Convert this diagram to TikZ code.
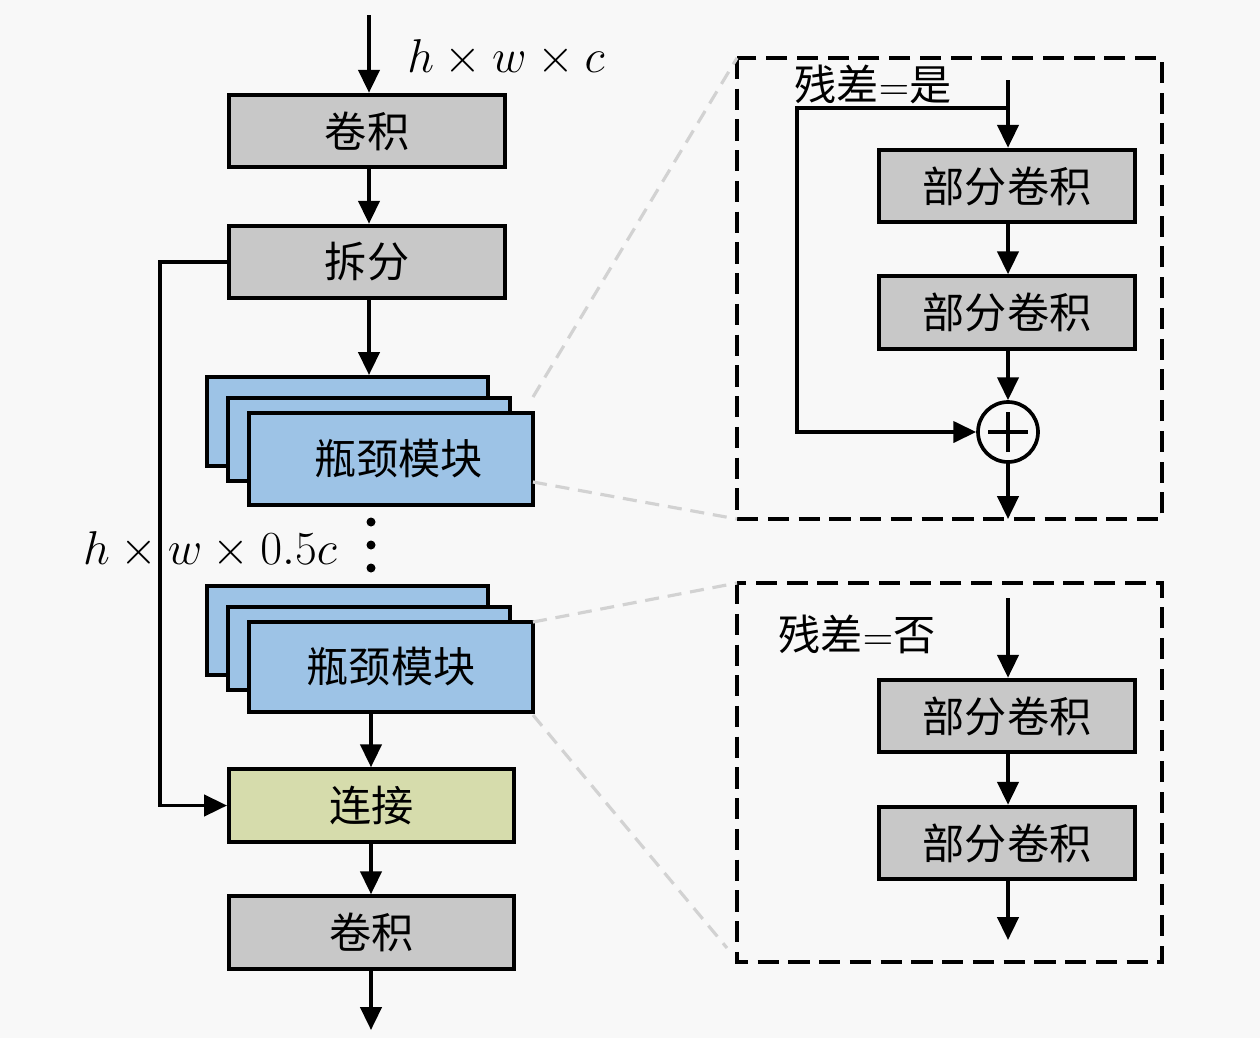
\RequirePackage{fix-cm}
\documentclass[tikz,border=0pt]{standalone}
\usepackage{fontspec}
\newfontfamily\cjk{Noto Sans CJK SC}
\usetikzlibrary{arrows.meta}
\definecolor{bgc}{RGB}{248,248,248}
\definecolor{boxgray}{RGB}{200,200,200}
\definecolor{bnblue}{RGB}{157,195,230}
\definecolor{catolive}{RGB}{214,220,172}
\definecolor{glinec}{RGB}{210,210,210}
\tikzset{
  arr/.style={line width=2.1pt, -{Triangle[length=13pt,width=12pt]}},
  gbox/.style={draw, line width=2.3pt, fill=boxgray, minimum height=1.45cm,
    font=\cjk\fontsize{24}{28}\selectfont, inner sep=0pt},
  bnbox/.style={draw, line width=2.3pt, fill=bnblue, inner sep=0pt,
    font=\cjk\fontsize{24}{28}\selectfont},
  mlab/.style={font=\fontsize{27}{31}\selectfont, inner sep=0pt},
  clab/.style={font=\cjk\fontsize{24}{28}\selectfont, inner sep=0pt},
  dbox/.style={line width=2.1pt, dash pattern=on 12pt off 5.5pt},
  gline/.style={line width=1.8pt, glinec, dash pattern=on 8pt off 5pt},
}
\begin{document}
\begin{tikzpicture}[x=0.02cm, y=-0.02cm]
\fill[bgc] (0,0) rectangle (1260,1038);
\useasboundingbox (0,0) rectangle (1260,1038);

% left column
\node[gbox, minimum width=5.52cm] (conv1) at (367,131) {卷积};
\node[gbox, minimum width=5.52cm] (split) at (367,262) {拆分};

\node[bnbox, minimum width=5.62cm, minimum height=1.78cm] (s1a) at (347.5,421.5) {};
\node[bnbox, minimum width=5.64cm, minimum height=1.66cm] (s1b) at (369,439.5) {};
\node[bnbox, minimum width=5.68cm, minimum height=1.84cm] (s1c) at (391,459) {\hspace*{0.3cm}瓶颈模块};

\node[bnbox, minimum width=5.62cm, minimum height=1.78cm] (s2a) at (347.5,630.5) {};
\node[bnbox, minimum width=5.64cm, minimum height=1.66cm] (s2b) at (369,648.5) {};
\node[bnbox, minimum width=5.68cm, minimum height=1.80cm] (s2c) at (391,667) {瓶颈模块};

\node[gbox, fill=catolive, minimum width=5.7cm] (concat) at (371.5,805.5) {连接};
\node[gbox, minimum width=5.7cm] (conv2) at (371.5,932.5) {卷积};

\coordinate (in) at (369,15);
\coordinate (xl) at (369,0);
\coordinate (xr) at (371,0);
\coordinate (out) at (371,1030);
\coordinate (byp) at (160,0);

\draw[arr] (in) -- (in |- conv1.north);
\draw[arr] (conv1.south -| xl) -- (split.north -| xl);
\draw[arr] (split.south -| xl) -- (s1a.north -| xl);
\draw[arr] (s2c.south -| xr) -- (concat.north -| xr);
\draw[arr] (concat.south -| xr) -- (conv2.north -| xr);
\draw[arr] (conv2.south -| xr) -- (out);
\draw[arr] (split.west) -- (split.west -| byp) -- (concat.west -| byp) -- (concat.west);

\fill (371,522) circle[radius=0.09cm];
\fill (371,545) circle[radius=0.09cm];
\fill (371,568) circle[radius=0.09cm];

\node[mlab] (lab1) at (506,58) {$h\times w\times c$};
\node[mlab] (lab2) at (210,550) {$h\times w\times 0.5c$};

% right top
\coordinate (r1a) at (737,58);
\coordinate (r1b) at (1162,519);
\draw[dbox] (r1a) rectangle (r1b);
\node[clab] (res1) at (873,84) {残差$=$是};
\node[gbox, minimum width=5.12cm] (pc1) at (1007,186) {部分卷积};
\node[gbox, minimum width=5.12cm] (pc2) at (1007,312.5) {部分卷积};
\node[draw, circle, line width=2.1pt, minimum size=1.2cm, inner sep=0pt] (plus) at (1008,432) {};
\draw[line width=2.1pt] ([xshift=-0.4cm]plus.center) -- ([xshift=0.4cm]plus.center);
\draw[line width=2.1pt] ([yshift=-0.4cm]plus.center) -- ([yshift=0.4cm]plus.center);
\coordinate (rin1) at (1008,80);
\coordinate (skip) at (1008,108);
\coordinate (skipx) at (797,0);
\coordinate (rout1) at (1008,519);
\draw[arr] (rin1) -- (rin1 |- pc1.north);
\draw[arr] (skip) -- (skip -| skipx) -- (plus.west -| skipx) -- (plus.west);
\draw[arr] (pc1.south -| rin1) -- (pc2.north -| rin1);
\draw[arr] (pc2.south -| rin1) -- (plus.north);
\draw[arr] (plus.south) -- (rout1);

% right bottom
\coordinate (r2a) at (737,583);
\coordinate (r2b) at (1162,962);
\draw[dbox] (r2a) rectangle (r2b);
\node[clab] (res2) at (857,634) {残差$=$否};
\node[gbox, minimum width=5.12cm] (pc3) at (1007,716) {部分卷积};
\node[gbox, minimum width=5.12cm] (pc4) at (1007,843) {部分卷积};
\coordinate (rin2) at (1008,598);
\coordinate (rout2) at (1008,940);
\draw[arr] (rin2) -- (rin2 |- pc3.north);
\draw[arr] (pc3.south -| rin2) -- (pc4.north -| rin2);
\draw[arr] (pc4.south -| rin2) -- (rout2);

% zoom lines
\draw[gline] (533,397) -- (r1a);
\draw[gline] (533,482) -- (r1a |- r1b);
\draw[gline] (533,622) -- (r2a);
\draw[gline] (533,715) -- (727,948);
\end{tikzpicture}
\end{document}
